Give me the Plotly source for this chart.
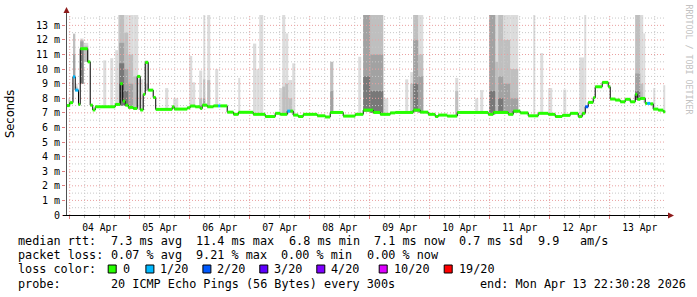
import numpy as np
import pandas as pd
import plotly.graph_objects as go

# ---------------- data ----------------
BASE = pd.Timestamp("2026-04-04 00:00:00")
START = pd.Timestamp("2026-04-03 22:30:28")
END = pd.Timestamp("2026-04-13 22:30:28")

# median RTT steps: hours since 04 Apr 00:00, value in ms, lost pings (of 20)
MEDIAN_H = [
    -1.5, 0.0, 1.3, 2.2, 3.5, 4.2, 7.2, 8.2, 9.2, 10.2,
    18.2, 20.2, 21.2, 22.2, 23.4, 25.4, 27.0, 28.2, 29.4, 30.2,
    31.4, 33.4, 34.4, 41.0, 41.8, 47.0, 48.2, 50.2, 52.2, 53.0,
    55.0, 57.5, 59.4, 60.2, 63.0, 65.5, 67.5, 73.4, 78.2, 82.2,
    84.2, 87.0, 88.2, 89.4, 91.4, 93.4, 99.0, 102.2, 104.2, 109.4,
    114.2, 117.4, 121.4, 124.2, 128.2, 130.2, 137.4, 140.2, 143.4, 146.2,
    147.4, 151.0, 155.0, 167.4, 169.4, 175.4, 177.4, 180.2, 183.4, 187.4,
    191.4, 194.2, 197.0, 200.2, 203.4, 205.0, 206.2, 207.4, 209.4, 210.2,
    213.0, 215.4, 216.2, 218.2, 220.2, 222.2, 224.2, 226.2, 227.0, 228.2,
    230.2, 231.0, 232.2, 233.4, 235.4, 237.4,
]
MEDIAN_END_H = 238.2
MEDIAN_MS = [
    7.50, 7.70, 9.47, 8.56, 7.58, 11.40, 10.50, 7.53, 7.20, 7.42,
    7.58, 9.00, 7.80, 7.53, 7.38, 7.30, 9.50, 7.20, 8.27, 10.46,
    8.56, 8.06, 7.24, 7.42, 7.26, 7.35, 7.47, 7.42, 7.30, 7.53,
    7.42, 7.48, 7.48, 7.48, 7.05, 6.90, 7.04, 6.90, 6.75, 6.97,
    6.90, 7.12, 7.12, 6.85, 6.75, 6.90, 6.80, 6.72, 7.03, 6.78,
    6.90, 7.19, 7.03, 6.90, 7.00, 7.03, 7.19, 7.05, 6.90, 6.75,
    6.85, 6.78, 7.03, 6.90, 7.03, 6.90, 7.12, 7.00, 6.80, 6.97,
    6.90, 6.75, 6.83, 6.97, 6.75, 6.97, 7.42, 7.72, 8.04, 8.79,
    9.09, 8.79, 7.95, 7.88, 7.76, 7.93, 7.76, 8.27, 7.93, 7.99,
    7.65, 7.65, 7.62, 7.26, 7.19, 7.08,
]
MEDIAN_LOSS = [
    0, 0, 1, 1, 0, 0, 0, 0, 0, 0,
    0, 0, 0, 0, 0, 0, 0, 0, 0, 0,
    0, 0, 0, 0, 0, 0, 0, 0, 0, 0,
    0, 0, 1, 0, 0, 0, 0, 0, 0, 0,
    0, 1, 0, 0, 0, 0, 0, 0, 0, 0,
    0, 0, 0, 0, 0, 0, 0, 0, 0, 0,
    0, 0, 0, 0, 0, 0, 0, 0, 0, 0,
    0, 0, 0, 0, 0, 0, 2, 0, 0, 0,
    0, 0, 0, 0, 0, 0, 0, 0, 0, 0,
    0, 1, 0, 0, 0, 0,
]

# smoke (ping spread) columns: start/end hour, bottom, and tops of 4 shade layers (0 = none)
SMOKE_H0 = [-0.6, 1.3, 2.2, 4.2, 5.5, 13.4, 16.2, 18.2, 19.4, 19.8,
            21.8, 23.4, 25.4, 27.4, 30.2, 38.2, 41.4, 47.8, 49.0, 51.8,
            53.4, 55.0, 58.2, 67.4, 73.3, 74.6, 75.8, 83.8, 85.0, 86.2,
            87.4, 89.0, 104.2, 115.4, 117.4, 120.2, 125.4, 134.2, 136.2, 137.4,
            139.4, 154.2, 162.2, 164.2, 167.8, 170.2, 171.4, 173.4, 176.2, 185.4,
            188.2, 191.4, 197.4, 203.8, 205.8, 226.2, 228.2, 229.4, 233.4, 237.4]
SMOKE_H1 = [0.2, 2.2, 3.1, 5.5, 7.4, 14.6, 17.4, 19.4, 19.8, 21.8,
            23.4, 25.4, 27.4, 29.4, 31.4, 39.4, 43.4, 49.0, 50.2, 53.0,
            54.2, 56.2, 59.4, 68.2, 74.6, 75.8, 77.4, 85.0, 86.2, 87.4,
            89.0, 90.2, 105.4, 116.6, 120.2, 125.4, 127.4, 135.4, 137.4, 139.4,
            141.4, 155.4, 163.4, 165.4, 170.2, 171.4, 173.4, 176.2, 179.4, 186.2,
            189.4, 193.0, 198.6, 205.8, 206.6, 228.2, 229.4, 230.2, 234.2, 238.2]
SMOKE_LO = [7.5, 9.4, 8.5, 9.0, 10.5, 7.4, 7.4, 7.5, 7.5, 7.5,
            7.5, 7.3, 7.3, 7.2, 8.5, 7.25, 7.25, 7.4, 7.4, 7.3,
            7.5, 7.4, 7.45, 7.0, 6.9, 6.9, 6.9, 6.9, 6.9, 6.9,
            7.0, 6.85, 7.0, 6.9, 7.1, 7.0, 6.9, 7.0, 7.0, 7.1,
            7.0, 6.8, 7.0, 7.0, 6.9, 7.0, 7.0, 7.0, 7.0, 6.9,
            6.97, 6.9, 6.8, 6.8, 7.0, 7.9, 7.9, 7.7, 7.2, 7.0]
SMOKE_L1 = [8.0, 12.45, 9.0, 12.1, 11.8, 10.6, 10.75, 11.3, 14, 14,
            14, 14, 14, 9.3, 10.6, 8.7, 8.0, 10.9, 9.1, 9.9,
            14, 14, 10.0, 9.4, 11.75, 10.0, 14, 8.7, 14, 12.45,
            9.25, 10.4, 10.5, 10.85, 14, 14, 8.0, 9.3, 9.8, 14,
            14, 9.4, 8.0, 8.56, 14, 14, 14, 14, 14, 14,
            11.1, 8.7, 8.6, 10.8, 14, 14, 14, 12.45, 8.7, 8.9]
SMOKE_L2 = [0, 12.4, 8.8, 12.0, 11.6, 0, 0, 0, 0, 14,
            12.5, 11.0, 9.5, 0, 9.0, 0, 0, 0, 0, 8.0,
            9.3, 9.25, 0, 0, 0, 0, 0, 0, 8.8, 9.0,
            8.0, 0, 10.5, 0, 14, 14, 0, 0, 9.0, 14,
            11.0, 8.5, 0, 0, 14, 10.5, 14, 12.0, 10.0, 0,
            0, 0, 0, 0, 0, 14, 9.0, 0, 0, 0]
SMOKE_L3 = [0, 11.0, 0, 11.9, 0, 0, 0, 0, 0, 11.8,
            10.0, 9.0, 0, 0, 0, 0, 0, 0, 0, 0,
            8.0, 0, 0, 0, 0, 0, 0, 0, 0, 0,
            0, 0, 8.5, 0, 14, 11.0, 0, 0, 0, 12.0,
            9.5, 0, 0, 0, 14, 0, 9.5, 9.0, 8.0, 0,
            0, 0, 0, 0, 0, 9.7, 0, 0, 0, 0]
SMOKE_L4 = [0, 0, 0, 11.4, 0, 0, 0, 0, 0, 10.4,
            8.5, 0, 0, 0, 0, 0, 0, 0, 0, 0,
            0, 0, 0, 0, 0, 0, 0, 0, 0, 0,
            0, 0, 0, 0, 9.5, 8.5, 0, 0, 0, 9.0,
            0, 0, 0, 0, 8.5, 0, 8.0, 0, 0, 0,
            0, 0, 0, 0, 0, 8.5, 0, 0, 0, 0]

Y_TICKS = list(range(14))
Y_TICKTEXT = ["0"] + [f"{i} m" for i in range(1, 14)]

LOSS_LEVELS = [0, 1, 2, 3, 4, 10, 19]
LOSS_LABELS = ["0", "1/20", "2/20", "3/20", "4/20", "10/20", "19/20"]
LOSS_COLORS = ["#26ff00", "#00b8ff", "#0059ff", "#5e00ff", "#7e00ff", "#dd00ff", "#ff0000"]

STAT_RTT = ["median rtt:", "7.3 ms avg", "11.4 ms max", "6.8 ms min", "7.1 ms now", "0.7 ms sd", "9.9", "am/s"]
STAT_LOSS = ["packet loss:", "0.07 % avg", "9.21 % max", "0.00 % min", "0.00 % now"]
LOSS_TITLE = "loss color:"
PROBE = ["probe:", "20 ICMP Echo Pings (56 Bytes) every 300s", "end: Mon Apr 13 22:30:28 2026"]

# ---------------- layout helpers ----------------
W, H = 697, 297
L, R, T, B = 66, 31, 15, 82
PW, PH = W - L - R, H - T - B
Y_MAX = 13.71
MONO = "DejaVu Sans Mono"


def t(hours):
    return BASE + pd.to_timedelta(np.asarray(hours, dtype=float), unit="h")


def px(x):
    return (x - L) / PW


def py(y):
    return (H - B - y) / PH


fig = go.Figure()

# smoke
h0, h1, lo = np.array(SMOKE_H0), np.array(SMOKE_H1), np.array(SMOKE_LO)
for tops, col in [(SMOKE_L1, "#dcdcdc"), (SMOKE_L2, "#bfbfbf"), (SMOKE_L3, "#a2a2a2"), (SMOKE_L4, "#787878")]:
    tops = np.array(tops, dtype=float)
    m = tops > 0
    fig.add_trace(go.Bar(
        x=t((h0[m] + h1[m]) / 2), y=tops[m] - lo[m], base=lo[m],
        width=(h1[m] - h0[m]) * 3600 * 1000,
        marker=dict(color=col, line=dict(width=0)),
        hoverinfo="skip", showlegend=False))

# grid (drawn over the smoke, as rrdtool does)
def hgrid(vals, color):
    xs, ys = [], []
    for v in vals:
        xs += [START, END, None]
        ys += [v, v, None]
    fig.add_trace(go.Scatter(x=xs, y=ys, mode="lines", hoverinfo="skip", showlegend=False,
                             line=dict(color=color, width=1, dash="1px,2px")))


def vgrid(hours, color):
    xs, ys = [], []
    for hh in hours:
        tt = t([hh])[0]
        xs += [tt, tt, None]
        ys += [0, Y_MAX, None]
    fig.add_trace(go.Scatter(x=xs, y=ys, mode="lines", hoverinfo="skip", showlegend=False,
                             line=dict(color=color, width=1, dash="1px,2px")))


hgrid([v + 0.5 for v in Y_TICKS], "#c8c8c8")
vgrid([hh for hh in range(0, 237, 6) if hh % 24], "#c8c8c8")
hgrid(Y_TICKS[1:], "#eaa0a0")
vgrid(list(range(0, 217, 24)), "#eaa0a0")

# median line
xs_all = list(MEDIAN_H) + [MEDIAN_END_H]
ys_all = list(MEDIAN_MS) + [MEDIAN_MS[-1]]
fig.add_trace(go.Scatter(x=t(xs_all), y=ys_all, mode="lines", line=dict(color="black", width=1, shape="hv"),
                         hoverinfo="skip", showlegend=False))
for lvl, col in zip(LOSS_LEVELS, LOSS_COLORS):
    xs, ys = [], []
    for i, v in enumerate(MEDIAN_MS):
        if MEDIAN_LOSS[i] == lvl:
            a, b = t([xs_all[i], xs_all[i + 1]])
            xs += [a, b, None]
            ys += [v, v, None]
    if xs:
        fig.add_trace(go.Scatter(x=xs, y=ys, mode="lines", line=dict(color=col, width=3),
                                 hoverinfo="skip", showlegend=False))

# ---------------- decorations ----------------
shapes = []
ann = []
# axis lines and arrows
shapes.append(dict(type="line", xref="paper", yref="paper", x0=px(66.5), x1=px(66.5), y0=py(215), y1=py(12),
                   line=dict(color="#505050", width=1)))
shapes.append(dict(type="line", xref="paper", yref="paper", x0=px(63), x1=px(669), y0=py(215.5), y1=py(215.5),
                   line=dict(color="#000000", width=1)))
shapes.append(dict(type="path", xref="paper", yref="paper",
                   path=f"M {px(63.5)} {py(13)} L {px(69.5)} {py(13)} L {px(66.5)} {py(7)} Z",
                   fillcolor="#8e1b1b", line=dict(width=0)))
shapes.append(dict(type="path", xref="paper", yref="paper",
                   path=f"M {px(668)} {py(212.5)} L {px(668)} {py(218.5)} L {px(674)} {py(215.5)} Z",
                   fillcolor="#8e1b1b", line=dict(width=0)))

CW = 7.12
def text(s, x, y, size=11.8, color="black", family=MONO, **kw):
    ann.append(dict(text=s, x=px(x), y=py(y), xref="paper", yref="paper", showarrow=False,
                    xanchor=kw.get("xanchor", "left"), yanchor="middle",
                    font=dict(family=family, size=size, color=color), textangle=kw.get("angle", 0)))

col_rtt = [0, 13, 25, 38, 50, 62, 73, 79]
for s, c in zip(STAT_RTT, col_rtt):
    text(s, 16 + c * CW, 241)
col_loss = [0, 13, 25, 37, 49]
for s, c in zip(STAT_LOSS, col_loss):
    text(s, 16 + c * CW, 255)
text(LOSS_TITLE, 16, 269)
leg_x = [120.7, 158.4, 215.4, 272.3, 329.3, 391.7, 456.7]
for lab, col, xx in zip(LOSS_LABELS, LOSS_COLORS, leg_x):
    shapes.append(dict(type="rect", xref="paper", yref="paper", x0=px(xx - 12.5), x1=px(xx - 4.5),
                       y0=py(273), y1=py(265), fillcolor=col, line=dict(color="black", width=1)))
    text(lab, xx, 269)
for s, xx in zip(PROBE, [16, 16 + 13 * CW, 478]):
    text(s, xx, 283.5)

text("Seconds", 10, 114, size=11.5, family="DejaVu Sans", xanchor="center", angle=-90)
text("RRDTOOL / TOBI OETIKER", 688.5, 59, size=8.3, color="#c2c2c2", xanchor="center", angle=90)

fig.update_layout(
    width=W, height=H, margin=dict(l=L, r=R, t=T, b=B, pad=0),
    paper_bgcolor="white", plot_bgcolor="white", barmode="overlay",
    showlegend=False, shapes=shapes, annotations=ann,
    xaxis=dict(type="date", range=[START, END], showgrid=False, zeroline=False, showline=False,
               tick0="2026-04-04", dtick=86400000, tickformat="%d %b", ticklabelmode="period",
               ticks="outside", ticklen=3, tickcolor="#e08080", tickwidth=1,
               tickfont=dict(family=MONO, size=9.7, color="black"),
               minor=dict(dtick=21600000, tick0="2026-04-04", ticks="outside", ticklen=2,
                          tickcolor="#b0b0b0", showgrid=False),
               fixedrange=True),
    yaxis=dict(range=[0, Y_MAX], tickvals=Y_TICKS, ticktext=Y_TICKTEXT, showgrid=False, zeroline=False,
               showline=False, ticks="outside", ticklen=3, tickcolor="#e08080",
               tickfont=dict(family=MONO, size=10, color="black"), fixedrange=True),
)

fig.write_html("out.html")
